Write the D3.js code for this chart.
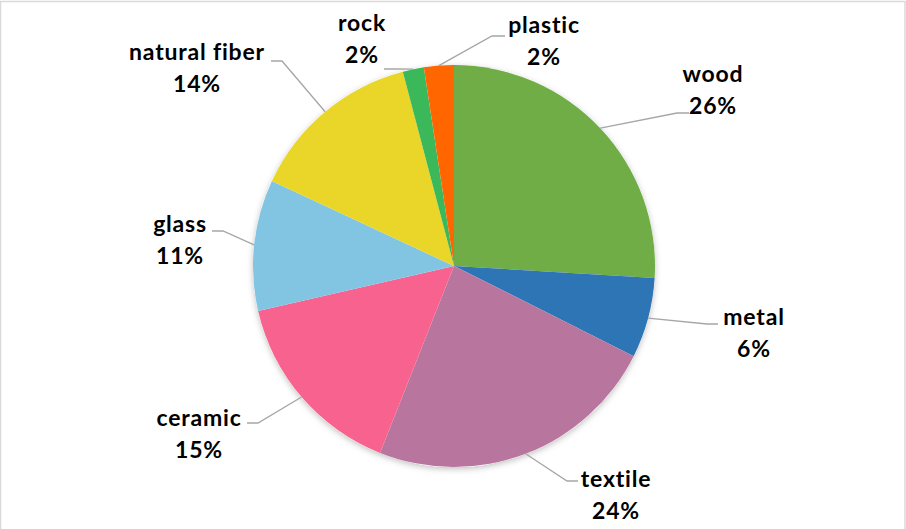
<!DOCTYPE html>
<html>
<head>
<meta charset="utf-8">
<script src="https://cdn.jsdelivr.net/npm/d3@7"></script>
<style>
  html, body { margin: 0; padding: 0; background: #fff; }
  svg { display: block; }
</style>
</head>
<body>
<svg id="chart" width="906" height="529"></svg>
<script>
// Chart data (clockwise from 12 o'clock)
const categories = ['wood', 'metal', 'textile', 'ceramic', 'glass', 'natural fiber', 'rock', 'plastic'];
const values = [25.95, 6.45, 23.6, 15.4, 10.55, 13.95, 1.7, 2.4];
const colors = ['#70ad47', '#2e75b6', '#b8769f', '#f8628f', '#81c5e3', '#e9d629', '#3bb85a', '#ff6600'];

// Label placement: text centre, first baseline, leader elbow and leader end
const labelLayout = [
  { x: 713, y: 82, elbow: [677, 113], end: [689, 113] },
  { x: 754, y: 325, elbow: [707, 324], end: [718, 324] },
  { x: 616, y: 487, elbow: [567, 481], end: [578, 481] },
  { x: 199, y: 426, elbow: [258, 423], end: [247, 423] },
  { x: 180, y: 232, elbow: [223, 231], end: [212, 231] },
  { x: 197, y: 60, elbow: [282, 61], end: [271, 61] },
  { x: 362, y: 31, elbow: [395, 69], end: [384, 69] },
  { x: 544, y: 33, elbow: [492, 36], end: [505, 36] },
];

const width = 906;
const height = 529;
const cx = 454;
const cy = 266;
const radius = 201;

const svg = d3.select('#chart');

// Outer chart frame
svg
  .append('rect')
  .attr('x', 0.5)
  .attr('y', 1.5)
  .attr('width', width - 1.5)
  .attr('height', height + 10)
  .style('fill', '#fff')
  .style('stroke', '#d9d9d9')
  .style('stroke-width', 1.5);

// Soft shadow like the spreadsheet default
const defs = svg.append('defs');
const shadow = defs
  .append('filter')
  .attr('id', 'pie-shadow')
  .attr('x', '-10%')
  .attr('y', '-10%')
  .attr('width', '120%')
  .attr('height', '120%');
shadow
  .append('feDropShadow')
  .attr('dx', 0)
  .attr('dy', 2)
  .attr('stdDeviation', 3)
  .attr('flood-color', '#000')
  .attr('flood-opacity', 0.25);

const total = d3.sum(values);
const slices = d3
  .pie()
  .sort(null)
  .value((d) => d)(values);

const arc = d3.arc().innerRadius(0).outerRadius(radius);

const pieGroup = svg.append('g').attr('transform', `translate(${cx}, ${cy})`);

pieGroup
  .append('circle')
  .attr('r', radius)
  .style('fill', '#fff')
  .attr('filter', 'url(#pie-shadow)');

pieGroup
  .selectAll('path.slice')
  .data(slices)
  .join('path')
  .attr('class', 'slice')
  .attr('d', arc)
  .style('fill', (d, i) => colors[i])
  .style('stroke', 'none');

// Leader lines: from slice edge at mid angle to elbow, then short horizontal
const lineGroup = svg.append('g');
slices.forEach((s, i) => {
  const mid = (s.startAngle + s.endAngle) / 2;
  const start = [cx + radius * Math.sin(mid), cy - radius * Math.cos(mid)];
  const lay = labelLayout[i];
  lineGroup
    .append('polyline')
    .attr('points', [start, lay.elbow, lay.end].map((p) => p.join(',')).join(' '))
    .style('fill', 'none')
    .style('stroke', '#a6a6a6')
    .style('stroke-width', 1.3);
});

// Labels: category name and percentage
const labelGroup = svg.append('g');
slices.forEach((s, i) => {
  const lay = labelLayout[i];
  const text = labelGroup
    .append('text')
    .attr('text-anchor', 'middle')
    .style('font-family', 'Lato, "Open Sans", sans-serif')
    .style('font-weight', 700)
    .style('font-size', '23px')
    .style('letter-spacing', '0.8px')
    .style('fill', '#000');
  text.append('tspan').attr('x', lay.x).attr('y', lay.y).text(categories[i]);
  text
    .append('tspan')
    .attr('x', lay.x)
    .attr('y', lay.y + 32)
    .text(`${Math.round((values[i] / total) * 100)}%`);
});
</script>
</body>
</html>
